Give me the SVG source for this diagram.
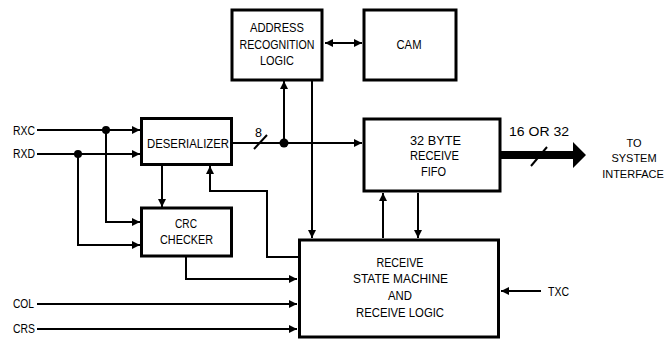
<svg xmlns="http://www.w3.org/2000/svg" width="666" height="341" viewBox="0 0 666 341">
<style>
.box{fill:#fff;stroke:#000;stroke-width:3}
.ln{fill:none;stroke:#000;stroke-width:2}
.t{font-family:"Liberation Sans",Arial,sans-serif;font-size:12.5px;fill:#000;text-anchor:middle}
.p{font-family:"Liberation Sans",Arial,sans-serif;font-size:12px;fill:#000}
.s{font-family:"Liberation Sans",Arial,sans-serif;font-size:11px;fill:#000;text-anchor:middle}
</style>
<defs>
<marker id="ah" markerUnits="userSpaceOnUse" markerWidth="10" markerHeight="10" refX="8" refY="5" orient="auto">
<path d="M0,1 L8,5 L0,9 Z" fill="#000"/>
</marker>
<marker id="as" markerUnits="userSpaceOnUse" markerWidth="10" markerHeight="10" refX="0" refY="5" orient="auto">
<path d="M8,1 L0,5 L8,9 Z" fill="#000"/>
</marker>
</defs>
<rect width="666" height="341" fill="#fff"/>
<g id="connectors">
<path class="ln" d="M37,130 H140" marker-end="url(#ah)"/>
<path class="ln" d="M37,154 H140" marker-end="url(#ah)"/>
<path class="ln" d="M106,130 V222 H140" marker-end="url(#ah)"/>
<path class="ln" d="M78,154 V245 H140" marker-end="url(#ah)"/>
<path class="ln" d="M162,165 V207" marker-end="url(#ah)"/>
<path class="ln" d="M233,143 H362" marker-end="url(#ah)"/>
<path class="ln" d="M254,149 L267,135"/>
<path class="ln" d="M284,143 V81" marker-end="url(#ah)"/>
<path class="ln" d="M312,81 V238" marker-end="url(#ah)"/>
<path class="ln" d="M325,43 H362" marker-start="url(#as)" marker-end="url(#ah)"/>
<path class="ln" d="M298,257 H267 V191 H210 V166" marker-end="url(#ah)"/>
<path class="ln" d="M186,257 V279 H297" marker-end="url(#ah)"/>
<path class="ln" d="M37,304 H297" marker-end="url(#ah)"/>
<path class="ln" d="M37,329 H297" marker-end="url(#ah)"/>
<path class="ln" d="M541,291 H501" marker-end="url(#ah)"/>
<path class="ln" d="M383,238 V193" marker-end="url(#ah)"/>
<path class="ln" d="M418,193 V238" marker-end="url(#ah)"/>
<path d="M501,151 H573 V142 L586,155 L573,168 V159 H501 Z" fill="#000"/>
<path class="ln" d="M531,166 L547,147"/>
<circle cx="106" cy="130" r="4"/>
<circle cx="78" cy="154" r="4"/>
<circle cx="284" cy="143" r="4.5"/>
</g>
<g id="address">
<rect class="box" x="232" y="10" width="90" height="70"/>
<text class="t" x="277" y="32" textLength="54" lengthAdjust="spacingAndGlyphs">ADDRESS</text>
<text class="t" x="277" y="49" textLength="75" lengthAdjust="spacingAndGlyphs">RECOGNITION</text>
<text class="t" x="277" y="65" textLength="34" lengthAdjust="spacingAndGlyphs">LOGIC</text>
</g>
<g id="cam">
<rect class="box" x="364" y="10" width="92" height="70"/>
<text class="t" x="409" y="49" textLength="25" lengthAdjust="spacingAndGlyphs">CAM</text>
</g>
<g id="deserializer">
<rect class="box" x="141.5" y="118.5" width="90" height="46"/>
<text class="t" x="188" y="148" textLength="82" lengthAdjust="spacingAndGlyphs">DESERIALIZER</text>
</g>
<g id="crc">
<rect class="box" x="141.5" y="208" width="90" height="48"/>
<text class="t" x="186" y="228" textLength="22" lengthAdjust="spacingAndGlyphs">CRC</text>
<text class="t" x="186.5" y="244" textLength="53" lengthAdjust="spacingAndGlyphs">CHECKER</text>
</g>
<g id="fifo">
<rect class="box" x="364" y="119" width="136" height="72"/>
<text class="t" x="435.5" y="145" textLength="51" lengthAdjust="spacingAndGlyphs">32 BYTE</text>
<text class="t" x="434.5" y="160" textLength="49" lengthAdjust="spacingAndGlyphs">RECEIVE</text>
<text class="t" x="433.5" y="176" textLength="25" lengthAdjust="spacingAndGlyphs">FIFO</text>
</g>
<g id="statemachine">
<rect class="box" x="299.5" y="240" width="199" height="97"/>
<text class="t" x="400" y="267" textLength="47" lengthAdjust="spacingAndGlyphs">RECEIVE</text>
<text class="t" x="400.5" y="283" textLength="95" lengthAdjust="spacingAndGlyphs">STATE MACHINE</text>
<text class="t" x="400" y="300" textLength="24" lengthAdjust="spacingAndGlyphs">AND</text>
<text class="t" x="400" y="317" textLength="88" lengthAdjust="spacingAndGlyphs">RECEIVE LOGIC</text>
</g>
<g id="labels">
<text class="p" x="13" y="135" textLength="22" lengthAdjust="spacingAndGlyphs">RXC</text>
<text class="p" x="13" y="158" textLength="22" lengthAdjust="spacingAndGlyphs">RXD</text>
<text class="p" x="13" y="308" textLength="21" lengthAdjust="spacingAndGlyphs">COL</text>
<text class="p" x="13" y="333" textLength="22" lengthAdjust="spacingAndGlyphs">CRS</text>
<text class="p" x="548" y="296" textLength="21" lengthAdjust="spacingAndGlyphs">TXC</text>
<text class="p" x="255" y="137" textLength="7" lengthAdjust="spacingAndGlyphs">8</text>
<text class="p" x="509" y="136" textLength="60" lengthAdjust="spacingAndGlyphs">16 OR 32</text>
<text class="s" x="634" y="147">TO</text>
<text class="s" x="634" y="162">SYSTEM</text>
<text class="s" x="633" y="178">INTERFACE</text>
</g>
</svg>
